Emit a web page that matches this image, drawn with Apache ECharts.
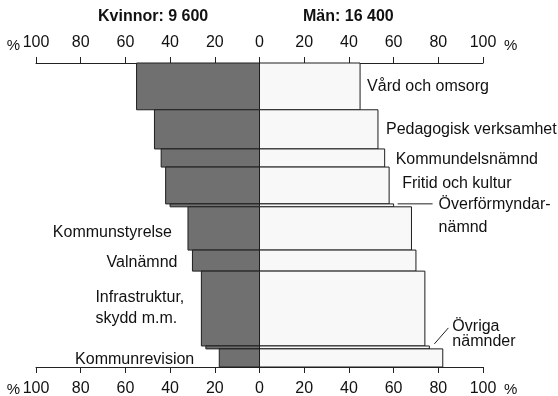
<!DOCTYPE html>
<html>
<head>
<meta charset="utf-8">
<script src="https://cdn.jsdelivr.net/npm/echarts@6/dist/echarts.min.js"></script>
<style>
  html, body { margin: 0; padding: 0; background: #fff; }
  #chart { width: 558px; height: 396px; }
</style>
</head>
<body>
<div id="chart"></div>
<script>
// Employees per committee, split into women's and men's shares (%)
const categories = [
  'Vård och omsorg',
  'Pedagogisk verksamhet',
  'Kommundelsnämnd',
  'Fritid och kultur',
  'Överförmyndar-\nnämnd',
  'Kommunstyrelse',
  'Valnämnd',
  'Infrastruktur,\nskydd m.m.',
  'Övriga\nnämnder',
  'Kommunrevision'
];
const employees = [4000, 3350, 1550, 3150, 250, 3700, 1800, 6400, 250, 1550];
const womenPct = [55, 47, 44, 42, 40, 32, 30, 26, 24, 18];
const menPct = [45, 53, 56, 58, 60, 68, 70, 74, 76, 82];
const totalWomen = 9600;
const totalMen = 16400;
const axisTicks = [-100, -80, -60, -40, -20, 0, 20, 40, 60, 80, 100];

// Where each committee name sits relative to the end of its bar
const labelPlacement = [
  { side: 'men', dx: 7, dy: 0, align: 'left' },
  { side: 'men', dx: 8, dy: 0, align: 'left' },
  { side: 'men', dx: 11, dy: 2, align: 'left' },
  { side: 'men', dx: 13, dy: -2, align: 'left' },
  { side: 'men', dx: 45, dy: 11, align: 'left', lineHeight: 23, leader: [[4, -1.5], [39, -1.5]] },
  { side: 'women', dx: -16, dy: 4, align: 'right' },
  { side: 'women', dx: -15, dy: 1.5, align: 'right' },
  { side: 'women', dx: -106, dy: -0.5, align: 'left', lineHeight: 21 },
  { side: 'men', dx: 23, dy: -13.5, align: 'left', lineHeight: 15, leader: [[5, -3.5], [19, -19.5]] },
  { side: 'women', dx: -25, dy: 1.5, align: 'right' }
];

const FONT = '"Liberation Sans", Arial, Helvetica, sans-serif';
const fmt = n => String(n).replace(/\B(?=(\d{3})+(?!\d))/g, ' ');

// Stack the rows: each row's height is its share of all employees
const totalEmployees = employees.reduce((a, b) => a + b, 0);
const rows = [];
let acc = 0;
employees.forEach((n, i) => {
  rows.push([acc, acc + n, womenPct[i], menPct[i], i]);
  acc += n;
});

function renderItem(params, api) {
  const i = api.value(4);
  const y0 = api.value(0), y1 = api.value(1);
  const w = api.value(2), m = api.value(3);
  const left = api.coord([-w, y0]);
  const mid0 = api.coord([0, y0]);
  const mid1 = api.coord([0, y1]);
  const right = api.coord([m, y1]);
  const top = mid0[1], h = mid1[1] - mid0[1];
  const children = [
    {
      type: 'rect',
      shape: { x: left[0], y: top, width: mid0[0] - left[0], height: h },
      style: { fill: '#707070', stroke: '#1e1e1e', lineWidth: 1 }
    },
    {
      type: 'rect',
      shape: { x: mid0[0], y: top, width: right[0] - mid0[0], height: h },
      style: { fill: '#f8f8f8', stroke: '#1e1e1e', lineWidth: 1 }
    }
  ];
  const lp = labelPlacement[i];
  const ex = lp.side === 'men' ? right[0] : left[0];
  const cy = top + h / 2;
  children.push({
    type: 'text',
    x: ex + lp.dx,
    y: cy + lp.dy,
    style: {
      text: categories[i],
      fill: '#111',
      font: '16px ' + FONT,
      align: lp.align,
      verticalAlign: 'middle',
      lineHeight: lp.lineHeight || 18
    }
  });
  if (lp.leader) {
    children.push({
      type: 'line',
      shape: {
        x1: ex + lp.leader[0][0], y1: cy + lp.leader[0][1],
        x2: ex + lp.leader[1][0], y2: cy + lp.leader[1][1]
      },
      style: { stroke: '#222', lineWidth: 1 }
    });
  }
  return { type: 'group', children };
}

function pctAxis(position, margin) {
  return {
    type: 'value',
    position: position,
    min: axisTicks[0],
    max: axisTicks[axisTicks.length - 1],
    interval: axisTicks[1] - axisTicks[0],
    splitLine: { show: false },
    axisLine: { show: true, onZero: false, lineStyle: { color: '#222', width: 1 } },
    axisTick: { show: true, length: 6, lineStyle: { color: '#222', width: 1 } },
    axisLabel: {
      margin: margin,
      color: '#111',
      fontSize: 16,
      fontFamily: FONT,
      formatter: v => String(Math.abs(v))
    }
  };
}

const pctSign = (x, y, align) => ({
  type: 'text', x: x, y: y,
  style: { text: '%', fill: '#111', font: '15px ' + FONT, align: align, verticalAlign: 'middle' }
});

const chart = echarts.init(document.getElementById('chart'), null, { renderer: 'canvas' });
chart.setOption({
  animation: false,
  backgroundColor: '#fff',
  grid: { left: 36, right: 75, top: 63, bottom: 29, containLabel: false, outerBoundsMode: 'none' },
  title: [
    {
      text: 'Kvinnor: ' + fmt(totalWomen),
      left: 93, top: 4,
      textStyle: { fontSize: 16, fontWeight: 'bold', color: '#111', fontFamily: FONT }
    },
    {
      text: 'Män: ' + fmt(totalMen),
      left: 298, top: 4,
      textStyle: { fontSize: 16, fontWeight: 'bold', color: '#111', fontFamily: FONT }
    }
  ],
  xAxis: [pctAxis('top', 12), pctAxis('bottom', 14)],
  yAxis: {
    type: 'value',
    inverse: true,
    min: 0,
    max: totalEmployees,
    show: false
  },
  graphic: [
    pctSign(20, 46, 'right'),
    pctSign(504, 46, 'left'),
    pctSign(20, 390, 'right'),
    pctSign(504, 390, 'left')
  ],
  series: [{
    type: 'custom',
    xAxisIndex: 0,
    yAxisIndex: 0,
    renderItem: renderItem,
    encode: { x: [2, 3], y: [0, 1] },
    data: rows,
    clip: false
  }]
});
</script>
</body>
</html>
